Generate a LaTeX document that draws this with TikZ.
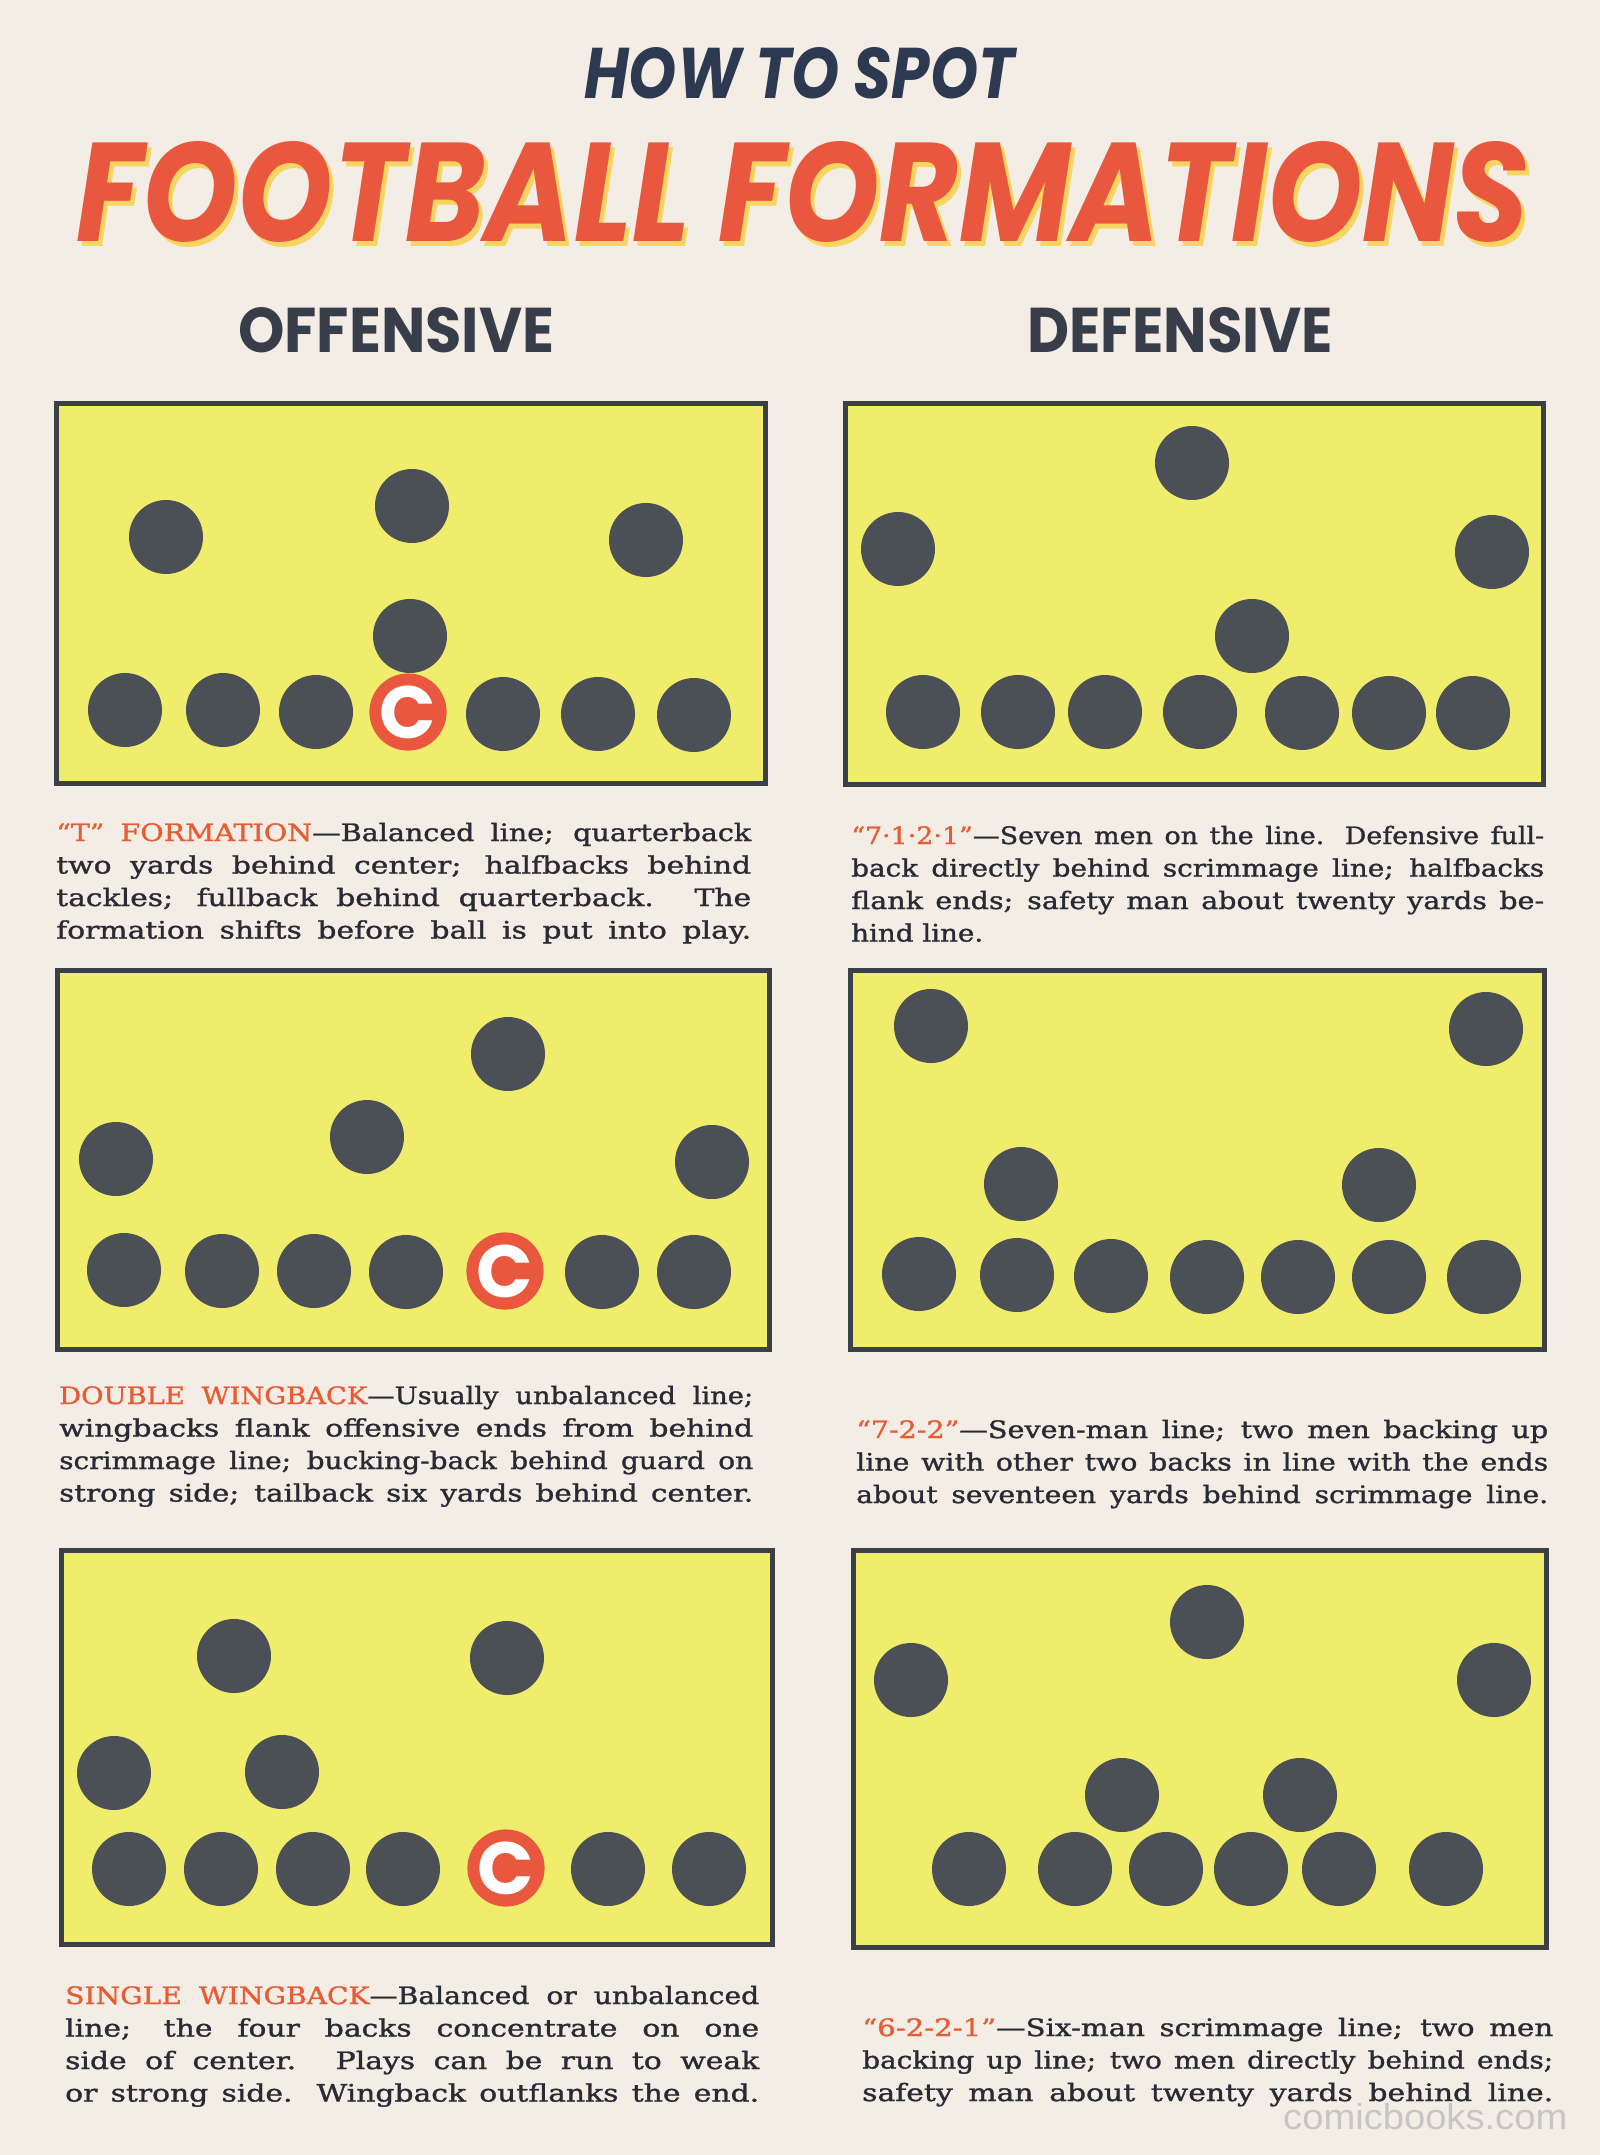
\documentclass[tikz,border=0pt]{standalone}
\usepackage{fontspec}
\usepackage{graphicx}
\newfontfamily\headfont{Poppins}
\newfontfamily\bodyfont{DejaVu Serif}[FakeStretch=1.07,FakeBold=1.2]
\newfontfamily\wmfont{Liberation Sans}
\definecolor{paper}{RGB}{243,237,229}
\definecolor{field}{RGB}{240,237,108}
\definecolor{framec}{RGB}{58,64,70}
\definecolor{coinc}{RGB}{74,80,85}
\definecolor{ink}{RGB}{40,42,52}
\definecolor{navy}{RGB}{45,57,80}
\definecolor{tred}{RGB}{233,88,62}
\definecolor{tshadow}{RGB}{246,214,96}
\definecolor{lblred}{RGB}{232,92,52}
\definecolor{slate}{RGB}{55,62,74}
\newcommand\jline[1]{%
  \sbox0{#1}\dimen0=\wd0
  \edef\jfac{\fpeval{min(1.16,0.965*\the\linewidth/\the\dimen0)}}%
  \edef\jwid{\fpeval{\the\linewidth/\jfac}pt}%
  \scalebox{\jfac}[1]{\makebox[\jwid][s]{#1}}}
\newcommand\lbl[1]{\textcolor{lblred}{#1}}
\begin{document}
\begin{tikzpicture}[x=1pt,y=-1pt,
  panel/.style={draw=framec,fill=field,line width=5pt},
  coin/.style={circle,fill=coinc,minimum size=74pt,inner sep=0pt},
  cball/.style={circle,fill=tred,minimum size=74pt,inner sep=0pt,text=white,
    font=\headfont\bfseries\fontsize{74}{74}\selectfont},
  desc/.style={anchor=base west,inner sep=0pt,text=ink,
    font=\bodyfont\fontsize{24}{32.5}\selectfont},
  head/.style={inner sep=0pt,anchor=south west}]
% background / bounding box
\path[fill=paper] (0,0) rectangle (1600,2155);
% titles
\node[head,text=navy] (how) at (584,99) {\resizebox{430pt}{51pt}{\headfont\bfseries\itshape HOW TO SPOT}};
\node[head,text=tshadow] (ffs) at (80,248) {\resizebox{1453pt}{100pt}{\headfont\bfseries\itshape FOOTBALL FORMATIONS}};
\node[head,text=tred] (ff) at (76,243) {\resizebox{1453pt}{100pt}{\headfont\bfseries\itshape FOOTBALL FORMATIONS}};
\node[head,text=slate] (off) at (238,353) {\resizebox{316pt}{45pt}{\headfont\bfseries OFFENSIVE}};
\node[head,text=slate] (def) at (1027,353) {\resizebox{306pt}{45pt}{\headfont\bfseries DEFENSIVE}};
% panels
\draw[panel] (56,403) rectangle (765,783);
\draw[panel] (845,403) rectangle (1543,784);
\draw[panel] (57,970) rectangle (769,1349);
\draw[panel] (850,970) rectangle (1544,1349);
\draw[panel] (61,1550) rectangle (772,1944);
\draw[panel] (853,1550) rectangle (1546,1947);
% panel 1: T formation
\node[coin] (a1) at (166,537) {};
\node[coin] (a2) at (412,506) {};
\node[coin] (a3) at (646,540) {};
\node[coin] (a4) at (410,636) {};
\node[coin] (a5) at (125,710) {};
\node[coin] (a6) at (223,710) {};
\node[coin] (a7) at (316,712) {};
\node[cball] (a8) at (408,712) {C};
\node[coin] (a9) at (503,714) {};
\node[coin] (a10) at (598,714) {};
\node[coin] (a11) at (694,715) {};
% panel 2: 7-1-2-1
\node[coin] (b1) at (1192,463) {};
\node[coin] (b2) at (898,549) {};
\node[coin] (b3) at (1492,552) {};
\node[coin] (b4) at (1252,636) {};
\node[coin] (b5) at (923,712) {};
\node[coin] (b6) at (1018,712) {};
\node[coin] (b7) at (1105,712) {};
\node[coin] (b8) at (1200,712) {};
\node[coin] (b9) at (1302,713) {};
\node[coin] (b10) at (1389,713) {};
\node[coin] (b11) at (1473,713) {};
% panel 3: double wingback
\node[coin] (c1) at (508,1054) {};
\node[coin] (c2) at (367,1137) {};
\node[coin] (c3) at (116,1159) {};
\node[coin] (c4) at (712,1162) {};
\node[coin] (c5) at (124,1270) {};
\node[coin] (c6) at (222,1271) {};
\node[coin] (c7) at (314,1271) {};
\node[coin] (c8) at (406,1272) {};
\node[cball] (c9) at (505,1271) {C};
\node[coin] (c10) at (602,1272) {};
\node[coin] (c11) at (694,1272) {};
% panel 4: 7-2-2
\node[coin] (d1) at (931,1026) {};
\node[coin] (d2) at (1486,1029) {};
\node[coin] (d3) at (1021,1184) {};
\node[coin] (d4) at (1379,1185) {};
\node[coin] (d5) at (919,1274) {};
\node[coin] (d6) at (1017,1275) {};
\node[coin] (d7) at (1111,1276) {};
\node[coin] (d8) at (1207,1277) {};
\node[coin] (d9) at (1298,1277) {};
\node[coin] (d10) at (1389,1277) {};
\node[coin] (d11) at (1484,1277) {};
% panel 5: single wingback
\node[coin] (e1) at (234,1656) {};
\node[coin] (e2) at (507,1658) {};
\node[coin] (e3) at (114,1773) {};
\node[coin] (e4) at (282,1772) {};
\node[coin] (e5) at (129,1869) {};
\node[coin] (e6) at (221,1869) {};
\node[coin] (e7) at (313,1869) {};
\node[coin] (e8) at (403,1869) {};
\node[cball] (e9) at (506,1868) {C};
\node[coin] (e10) at (608,1869) {};
\node[coin] (e11) at (709,1869) {};
% panel 6: 6-2-2-1
\node[coin] (f1) at (1207,1622) {};
\node[coin] (f2) at (911,1680) {};
\node[coin] (f3) at (1494,1680) {};
\node[coin] (f4) at (1122,1795) {};
\node[coin] (f5) at (1300,1795) {};
\node[coin] (f6) at (969,1869) {};
\node[coin] (f7) at (1075,1869) {};
\node[coin] (f8) at (1166,1869) {};
\node[coin] (f9) at (1251,1869) {};
\node[coin] (f10) at (1339,1869) {};
\node[coin] (f11) at (1446,1869) {};
% descriptions
\node[desc] (t1) at (56,841) {\parbox[t]{695pt}{%
\jline{\lbl{“T” FORMATION}—Balanced line; quarterback}\\
\jline{two yards behind center; halfbacks behind}\\
\jline{tackles; fullback behind quarterback. The}\\
\jline{formation shifts before ball is put into play.}}};
\node[desc] (t2) at (851,844) {\parbox[t]{693pt}{%
\jline{\lbl{“7·1·2·1”}—Seven men on the line. Defensive full-}\\
\jline{back directly behind scrimmage line; halfbacks}\\
\jline{flank ends; safety man about twenty yards be-}\\
\scalebox{1.08}[1]{hind line.}}};
\node[desc] (t3) at (59,1404) {\parbox[t]{694pt}{%
\jline{\lbl{DOUBLE WINGBACK}—Usually unbalanced line;}\\
\jline{wingbacks flank offensive ends from behind}\\
\jline{scrimmage line; bucking-back behind guard on}\\
\jline{strong side; tailback six yards behind center.}}};
\node[desc] (t4) at (856,1438) {\parbox[t]{692pt}{%
\jline{\lbl{“7-2-2”}—Seven-man line; two men backing up}\\
\jline{line with other two backs in line with the ends}\\
\jline{about seventeen yards behind scrimmage line.}}};
\node[desc] (t5) at (65,2004) {\parbox[t]{694pt}{%
\jline{\lbl{SINGLE WINGBACK}—Balanced or unbalanced}\\
\jline{line; the four backs concentrate on one}\\
\jline{side of center. Plays can be run to weak}\\
\jline{or strong side. Wingback outflanks the end.}}};
\node[desc] (t6) at (862,2036) {\parbox[t]{691pt}{%
\jline{\lbl{“6-2-2-1”}—Six-man scrimmage line; two men}\\
\jline{backing up line; two men directly behind ends;}\\
\jline{safety man about twenty yards behind line.}}};
% watermark
\node[head,text=gray!45] (wm) at (1283,2130) {\resizebox{284pt}{26pt}{\wmfont comicbooks.com}};
\end{tikzpicture}
\end{document}
